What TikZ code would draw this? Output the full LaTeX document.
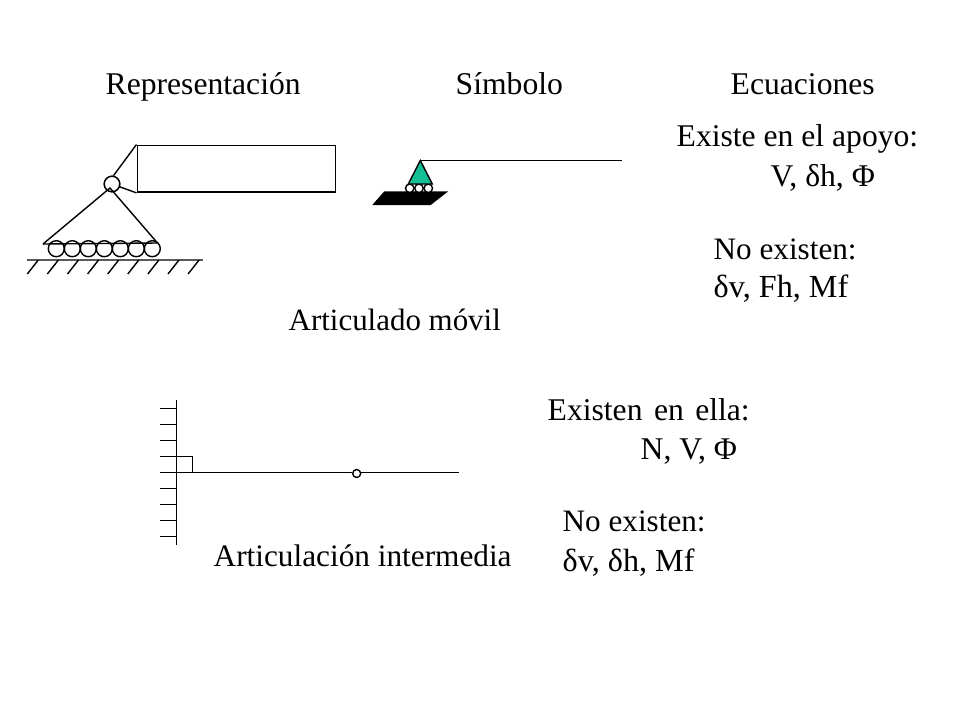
\documentclass[tikz,border=0pt]{standalone}
\usepackage{fontspec}
\setmainfont{Liberation Serif}
\definecolor{apoyogreen}{HTML}{14BF96}
\tikzset{
  txt/.style={anchor=base west,inner sep=0pt,font=\fontsize{#1}{21}\selectfont},
  txt/.default=18,
  roller/.style={circle,draw,inner sep=0pt,minimum size=#1},
  hinge/.style={circle,draw,fill=white,inner sep=0pt,minimum size=#1}
}
\begin{document}
\begin{tikzpicture}[x=0.02cm,y=-0.02cm,thick]
\useasboundingbox (0,0) rectangle (960,720);
% headings
\node[txt] (repr) at (105,94) {Representación};
\node[txt] (simb) at (455,94) {Símbolo};
\node[txt] (ecua) at (730,94) {Ecuaciones};
% representation
\node[draw,thick,minimum width=3.97cm,minimum height=0.94cm,inner sep=0pt,anchor=north west] (box) at (136.5,144.5) {};
\node[hinge=0.31cm] (pin) at (112,184) {};
\draw (box.north west) -- (pin.80);
\draw (box.south west) -- (pin);
\node[hinge=0.31cm] at (pin) {};
\coordinate (apex) at (110,188);
\coordinate (baseL) at (43,244);
\coordinate (baseR) at (157.5,243);
\draw (baseL) -- (apex) -- (baseR);
\foreach \x in {0,1,...,6} {
\node[roller=0.32cm] (r\x) at (56.3+16*\x,248.7) {};
}
\draw (baseL) -- (baseR);
\coordinate (groundL) at (27,260);
\coordinate (groundR) at (203,260);
\draw[line width=1.2pt,black!65] (groundL) -- (groundR);
\foreach \x in {0,1,...,8} {
\draw (38.3+20.1*\x,260) -- (27.3+20.1*\x,274);
}
% symbol
\coordinate (beamS) at (622,160.5);
\fill (384.3,191.3) -- (448.3,191.3) -- (430.7,205) -- (372.3,205) -- cycle;
\foreach \x in {0,1,2} {
\node[roller=0.17cm,fill=white] (s\x) at (409.7+9.3*\x,188.3) {};
}
\coordinate (tipS) at (420.3,160.5);
\draw[fill=apoyogreen] (tipS) -- (432.3,184) -- (408.3,184) -- cycle;
\draw (tipS) -- (beamS);
% equations
\node[txt] (exA) at (676,146.5) {Existe en el apoyo:};
\node[txt] (exB) at (770,186) {V, δh, Φ};
\node[txt=17.75] (noA) at (713,259) {No existen:};
\node[txt=18.3] (noB) at (713,297) {δv, Fh, Mf};
\node[txt=17.6] (movil) at (288,330) {Articulado móvil};
% intermediate
\coordinate (wallT) at (176.3,400);
\coordinate (wallB) at (176.3,545);
\draw (wallT) -- (wallB);
\foreach \y in {0,1,...,8} {
\draw (160,408.3+16*\y) -- (176.3,408.3+16*\y);
}
\draw[thin] (176.3,456.3) -- (192.3,456.3) -- (192.3,472.3);
\coordinate (beamL) at (160,472.3);
\coordinate (beamR) at (458.7,472.3);
\node[hinge=0.16cm] (mid) at (356.7,473.5) {};
\draw (beamL) -- (beamL -| mid.west);
\draw (beamR) -- (beamR -| mid.east);
\node[txt=17.8] (inter) at (213,566) {Articulación intermedia};
\node[txt] (enA) at (547,420) {Existen\hspace{2pt} en\hspace{2pt} ella:};
\node[txt] (enB) at (640,459) {N, V, Φ};
\node[txt=17.75] (nnA) at (562,531) {No existen:};
\node[txt=18.3] (nnB) at (562,571) {δv, δh, Mf};
\end{tikzpicture}
\end{document}
